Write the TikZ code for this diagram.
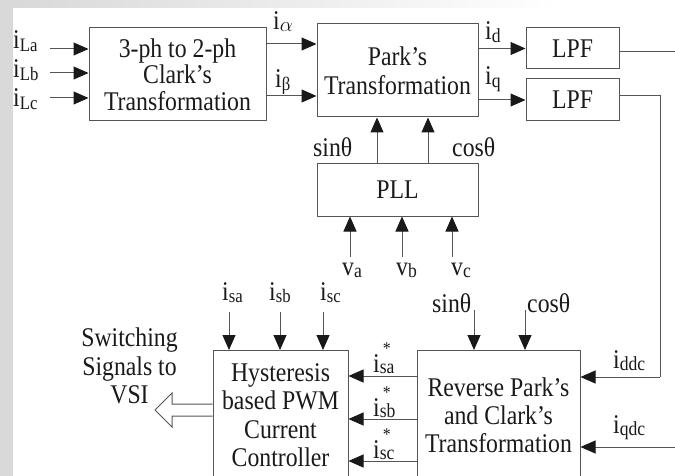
\documentclass[tikz,border=0pt]{standalone}
\usepackage{fontspec}
\setmainfont[FakeStretch=0.88]{Liberation Serif}
\usetikzlibrary{arrows.meta,calc}
\definecolor{lc}{HTML}{555555}
\definecolor{tc}{HTML}{1A1A1A}
\newcommand\mysb[2][19]{{\fontsize{#1}{#1}\selectfont\raisebox{-2.5pt}{#2}}}
\newcommand\mystar[1]{i\rlap{\fontsize{18}{18}\selectfont\raisebox{18pt}{\kern3pt*}}{\fontsize{20}{20}\selectfont\raisebox{-1.5pt}{#1}}}
\begin{document}
\begin{tikzpicture}[x=1pt,y=-1pt,
  box/.style={draw=lc, line width=1pt, inner sep=0pt, font=\fontsize{27}{26.5}\selectfont, text=tc, align=center},
  txt/.style={font=\fontsize{27}{28.5}\selectfont, text=tc, align=center, inner sep=0pt},
  lbl/.style={font=\fontsize{27}{27}\selectfont, text=tc, inner sep=0pt, anchor=base west},
  arr/.style={draw=lc, line width=1pt, -{Triangle[length=15pt,width=13pt,color=black!90]}},
  ln/.style={draw=lc, line width=1pt}]
\useasboundingbox (0,0) rectangle (675,476);
\fill[black!15] (0,0) rectangle (13,476);
\shade[left color=black!15, right color=white] (13,0) rectangle (560,8);

% blocks
\node[box, minimum width=177, minimum height=93] (clark) at (177.5,74.5) {3-ph to 2-ph\\Clark’s\\Transformation};
\node[box, minimum width=161, minimum height=93, font=\fontsize{27}{29}\selectfont] (park) at (397.5,70.5) {Park’s\\Transformation};
\node[box, minimum width=93, minimum height=41] (lpf1) at (572.5,48.5) {LPF};
\node[box, minimum width=93, minimum height=42] (lpf2) at (572.5,100) {LPF};
\node[box, minimum width=161, minimum height=52] (pll) at (397.5,190) {PLL};
\node[box, minimum width=135, minimum height=150, anchor=north] (hyst) at (280.5,350) {};
\node[txt] (hystt) at (280.5,415) {Hysteresis\\based PWM\\Current\\Controller};
\node[box, minimum width=163, minimum height=150, anchor=north] (rev) at (498.5,350) {};
\node[txt, font=\fontsize{27}{28}\selectfont] (revt) at (498.5,415) {Reverse Park’s\\and Clark’s\\Transformation};
\node[txt] (sw) at (129.5,366) {Switching\\Signals to\\VSI};

% helper coordinates
\coordinate (la) at (50,49);
\coordinate (lb) at (50,73);
\coordinate (lc) at (50,98);
\coordinate (ya) at (0,44);
\coordinate (yb) at (0,96);
\coordinate (ps) at (377,0);
\coordinate (pc) at (428,0);
\coordinate (va) at (350,257);
\coordinate (vb) at (402,257);
\coordinate (vc) at (452,257);
\coordinate (e1) at (675,52);
\coordinate (k1) at (660,96);
\coordinate (k2) at (660,377);
\coordinate (qd) at (675,447);
\coordinate (sa) at (229,312);
\coordinate (sb) at (280,312);
\coordinate (sc) at (323,312);
\coordinate (rs) at (474,310);
\coordinate (rc) at (525,310);
\coordinate (y1) at (0,376);
\coordinate (y2) at (0,419);
\coordinate (y3) at (0,461);
\coordinate (h1) at (0,404);
\coordinate (h2) at (0,416);

% connectors
\draw[arr] (la) -- (clark.west|-la);
\draw[arr] (lb) -- (clark.west|-lb);
\draw[arr] (lc) -- (clark.west|-lc);
\draw[arr] (clark.east|-ya) -- (park.west|-ya);
\draw[arr] (clark.east|-yb) -- (park.west|-yb);
\draw[arr] (park.east|-lpf1.west) -- (lpf1.west);
\draw[arr] (park.east|-lpf2.west) -- (lpf2.west);
\draw[arr] (pll.north-|ps) -- (park.south-|ps);
\draw[arr] (pll.north-|pc) -- (park.south-|pc);
\draw[arr] (va) -- (pll.south-|va);
\draw[arr] (vb) -- (pll.south-|vb);
\draw[arr] (vc) -- (pll.south-|vc);
\draw[ln] (lpf1.east|-e1) -- (e1);
\draw[ln] (lpf2.east|-k1) -- (k1) -- (k2);
\draw[arr] (k2) -- (rev.east|-k2);
\draw[arr] (qd) -- (rev.east|-qd);
\draw[arr] (sa) -- (hyst.north-|sa);
\draw[arr] (sb) -- (hyst.north-|sb);
\draw[arr] (sc) -- (hyst.north-|sc);
\draw[arr] (rs) -- (rev.north-|rs);
\draw[arr] (rc) -- (rev.north-|rc);
\draw[arr] (rev.west|-y1) -- (hyst.east|-y1);
\draw[arr] (rev.west|-y2) -- (hyst.east|-y2);
\draw[arr] (rev.west|-y3) -- (hyst.east|-y3);
\draw[lc, line width=1pt, fill=white] (hyst.west|-h1) -- (172,404) -- (172,393) -- (155,410) -- (172,427) -- (172,416) -- (hyst.west|-h2);

% labels
\node[lbl] (tLa) at (13,49) {i\mysb{La}};
\node[lbl] (tLb) at (13,78) {i\mysb{Lb}};
\node[lbl] (tLc) at (13,107) {i\mysb{Lc}};
\node[lbl] (talpha) at (273,30) {i{\fontsize{20}{20}\selectfont\raisebox{-2pt}{$\alpha$}}};
\node[lbl] (tbeta) at (275,88) {i\mysb{β}};
\node[lbl] (tid) at (485,40) {i\mysb[20]{d}};
\node[lbl] (tiq) at (485,85) {i\mysb[20]{q}};
\node[lbl] (tsin1) at (313,157) {sinθ};
\node[lbl] (tcos1) at (452,157) {cosθ};
\node[lbl] (tva) at (342,275) {v\mysb[20]{a}};
\node[lbl] (tvb) at (396,275) {v\mysb[20]{b}};
\node[lbl] (tvc) at (451,275) {v\mysb[20]{c}};
\node[lbl] (tsa) at (222,300) {i\mysb{sa}};
\node[lbl] (tsb) at (269,300) {i\mysb{sb}};
\node[lbl] (tsc) at (320,300) {i\mysb{sc}};
\node[lbl] (tsin2) at (432,312) {sinθ};
\node[lbl] (tcos2) at (527,312) {cosθ};
\node[lbl] (tddc) at (613,368) {i\mysb[20]{ddc}};
\node[lbl] (tqdc) at (613,433) {i\mysb[20]{qdc}};
\node[lbl] (tssa) at (373,372) {\mystar{sa}};
\node[lbl] (tssb) at (373,416) {\mystar{sb}};
\node[lbl] (tssc) at (373,458) {\mystar{sc}};
\end{tikzpicture}
\end{document}
